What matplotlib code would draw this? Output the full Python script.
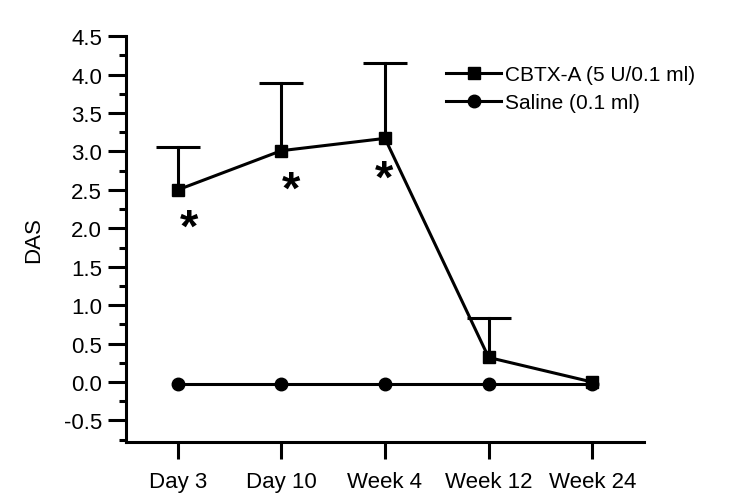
import matplotlib.pyplot as plt
import numpy as np

plt.rcParams['font.family'] = ['Liberation Sans', 'DejaVu Sans']

labels = ["Day 3", "Day 10", "Week 4", "Week 12", "Week 24"]
cbtx = [2.50, 3.01, 3.17, 0.32, 0.0]
cbtx_upper = [3.06, 3.89, 4.15, 0.83, 0.0]
saline = [-0.03, -0.03, -0.03, -0.03, -0.03]
star_x = [0.11, 1.09, 1.99]
star_y = [2.0, 2.49, 2.63]

x = np.arange(len(labels))

fig = plt.figure(figsize=(7.49, 5.02), dpi=100)
ax = fig.add_axes([0.168, 0.1175, 0.692, 0.8085])

# upper error bars only
for xi, v, up in zip(x, cbtx, cbtx_upper):
    if up > v:
        ax.plot([xi, xi], [v, up], color='black', lw=2.2)
        ax.plot([xi], [up], marker='_', color='black', ms=32, mew=2.2)

ax.plot(x, cbtx, '-s', color='black', lw=2.2, ms=9, label="CBTX-A (5 U/0.1 ml)")
ax.plot(x, saline, '-o', color='black', lw=2.2, ms=9, label="Saline (0.1 ml)")

for sx, sy in zip(star_x, star_y):
    ax.text(sx, sy, "*", fontsize=34, ha='center', va='center', fontweight='bold')

ax.set_xlim(-0.5, 4.5)
ax.set_ylim(-0.78, 4.5)
ax.set_xticks(x)
ax.set_xticklabels(labels)
ax.set_yticks(np.arange(-0.5, 4.51, 0.5))
ax.set_yticklabels(["%.1f" % v for v in np.arange(-0.5, 4.51, 0.5)])
ax.set_yticks(np.arange(-0.75, 4.5, 0.25), minor=True)
ax.set_ylabel("DAS", fontsize=16, labelpad=14)

ax.spines['top'].set_visible(False)
ax.spines['right'].set_visible(False)
ax.spines['left'].set_linewidth(2.2)
ax.spines['bottom'].set_linewidth(2.2)
ax.tick_params(axis='y', which='major', direction='out', length=13, width=2.2, labelsize=16, pad=4)
ax.tick_params(axis='x', which='major', direction='out', length=12, width=2.2, labelsize=16, pad=9)
ax.tick_params(axis='y', which='minor', direction='out', length=5, width=2.2)

h, l = ax.get_legend_handles_labels()
fig.legend(h, l, loc='upper left', bbox_to_anchor=(0.585, 0.885), frameon=False,
           fontsize=15, handlelength=2.6, handletextpad=0.2, labelspacing=0.45,
           borderaxespad=0)

fig.savefig("out.png", dpi=100)
